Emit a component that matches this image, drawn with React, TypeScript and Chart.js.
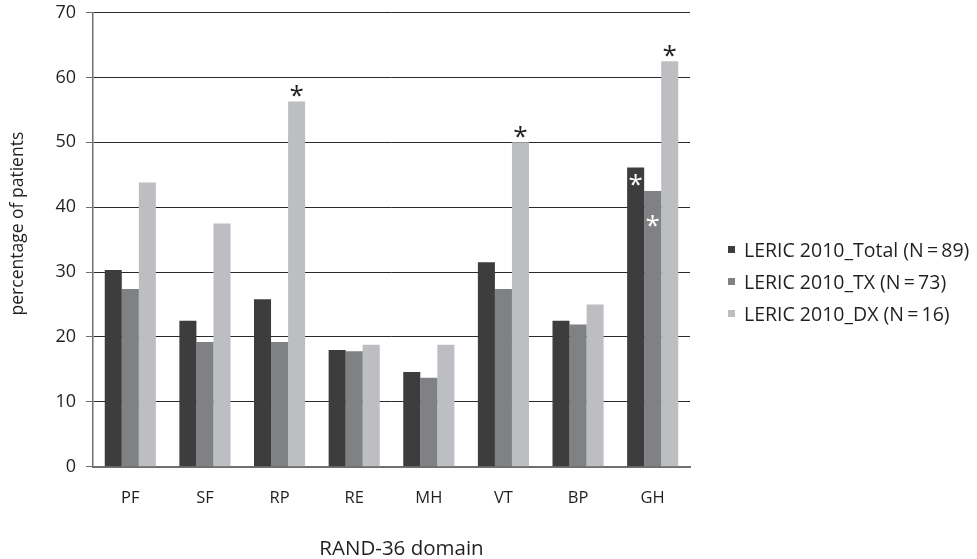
import React, { useEffect, useRef } from "react";
import { Chart, registerables } from "chart.js";

Chart.register(...registerables);

const categories = ["PF", "SF", "RP", "RE", "MH", "VT", "BP", "GH"];
const seriesNames = [
  "LERIC 2010_Total (N\u2009=\u200989)",
  "LERIC 2010_TX (N\u2009=\u200973)",
  "LERIC 2010_DX (N\u2009=\u200916)",
];
const totalValues = [30.3, 22.5, 25.8, 18.0, 14.6, 31.5, 22.5, 46.1];
const txValues = [27.4, 19.2, 19.2, 17.8, 13.7, 27.4, 21.9, 42.5];
const dxValues = [43.8, 37.5, 56.3, 18.8, 18.8, 50.0, 25.0, 62.5];
const totalStars = [0, 0, 0, 0, 0, 0, 0, 1];
const txStars = [0, 0, 0, 0, 0, 0, 0, 1];
const dxStars = [0, 0, 1, 0, 0, 1, 0, 1];
const yMin = 0;
const yMax = 70;
const yStep = 10;
const xTitle = "RAND-36 domain";
const yTitle = "percentage of patients";

const colors = ["#3d3d3d", "#808184", "#bdbec2"];
const FONT = "'Open Sans', 'Noto Sans', sans-serif";
const TEXT = "#231f20";

// star style per series: colour and vertical offset of star centre from bar top (negative = above)
const starStyles = [
  { color: "#ffffff", offset: 12 },
  { color: "#ffffff", offset: 30 },
  { color: "#231f20", offset: -10 },
];
const starSeries = [totalStars, txStars, dxStars];

const starPlugin = {
  id: "stars",
  afterDatasetsDraw(chart: any) {
    const ctx = chart.ctx;
    ctx.save();
    ctx.font = `26px ${FONT}`;
    ctx.textAlign = "center";
    ctx.textBaseline = "alphabetic";
    const m = ctx.measureText("*");
    const asc = m.actualBoundingBoxAscent;
    const desc = m.actualBoundingBoxDescent;
    starSeries.forEach((stars, di) => {
      const meta = chart.getDatasetMeta(di);
      stars.forEach((s, i) => {
        if (!s) return;
        const el = meta.data[i];
        const cy = el.y + starStyles[di].offset;
        ctx.fillStyle = starStyles[di].color;
        ctx.fillText("*", el.x, cy + (asc - desc) / 2);
      });
    });
    ctx.restore();
  },
};

const titlesPlugin = {
  id: "titlesCustom",
  afterDraw(chart: any) {
    const { ctx, chartArea } = chart;
    ctx.save();
    ctx.fillStyle = TEXT;
    ctx.textAlign = "center";
    // y title
    ctx.font = `17.5px ${FONT}`;
    ctx.textBaseline = "middle";
    ctx.save();
    ctx.translate(18, (chartArea.top + chartArea.bottom) / 2 - 16);
    ctx.rotate(-Math.PI / 2);
    ctx.fillText(yTitle, 0, 0);
    ctx.restore();
    // x title
    ctx.font = `20.5px ${FONT}`;
    ctx.textBaseline = "alphabetic";
    ctx.fillText(xTitle, (chartArea.left + chartArea.right) / 2 + 10, chartArea.bottom + 88.5);
    ctx.restore();
  },
};

export default function App() {
  const canvasRef = useRef<HTMLCanvasElement | null>(null);

  useEffect(() => {
    document.body.style.margin = "0";
    const canvas = canvasRef.current;
    if (!canvas) return;
    const seriesValues = [totalValues, txValues, dxValues];
    const chart = new Chart(canvas, {
      type: "bar",
      data: {
        labels: categories,
        datasets: seriesValues.map((vals, i) => ({
          label: seriesNames[i],
          data: vals,
          backgroundColor: colors[i],
          borderWidth: 0,
          categoryPercentage: 0.685,
          barPercentage: 1,
        })),
      },
      plugins: [starPlugin, titlesPlugin],
      options: {
        animation: false,
        responsive: true,
        maintainAspectRatio: false,
        layout: { padding: { top: 12.5, right: 287, left: 0, bottom: 0 } },
        plugins: {
          legend: { display: false },
          tooltip: { enabled: false },
        },
        scales: {
          x: {
            grid: { display: false, drawTicks: false },
            border: { display: true, color: "#6f6f6f", width: 2 },
            ticks: {
              color: TEXT,
              font: { family: FONT, size: 16.5 },
              padding: 22,
            },
            afterFit(scale: any) {
              scale.height = 92.3;
              scale.paddingLeft = 0;
              scale.paddingRight = 0;
            },
          },
          y: {
            min: yMin,
            max: yMax,
            ticks: {
              stepSize: yStep,
              color: TEXT,
              font: { family: FONT, size: 18 },
              padding: 10,
            },
            grid: {
              color: "#2a2a2a",
              lineWidth: 1,
              tickLength: 7,
              tickColor: "#6f6f6f",
              drawTicks: true,
            },
            border: { display: true, color: "#6f6f6f", width: 1.5 },
            afterFit(scale: any) {
              scale.width = 93;
              scale.paddingTop = 0;
              scale.paddingBottom = 0;
            },
          },
        },
      },
    });
    return () => chart.destroy();
  }, []);

  return (
    <div style={{ position: "relative", width: 977, height: 559 }}>
      <canvas ref={canvasRef} />
      <div
        style={{
          position: "absolute",
          left: 728,
          top: 233,
          fontFamily: FONT,
          fontSize: 19.5,
          color: TEXT,
          whiteSpace: "nowrap",
        }}
      >
        {seriesNames.map((name, i) => (
          <div key={name} style={{ display: "flex", alignItems: "center", height: 32 }}>
            <span
              style={{
                display: "inline-block",
                width: 7,
                height: 7,
                background: colors[i],
                marginRight: 9,
                flex: "none",
              }}
            />
            <span>{name}</span>
          </div>
        ))}
      </div>
    </div>
  );
}
